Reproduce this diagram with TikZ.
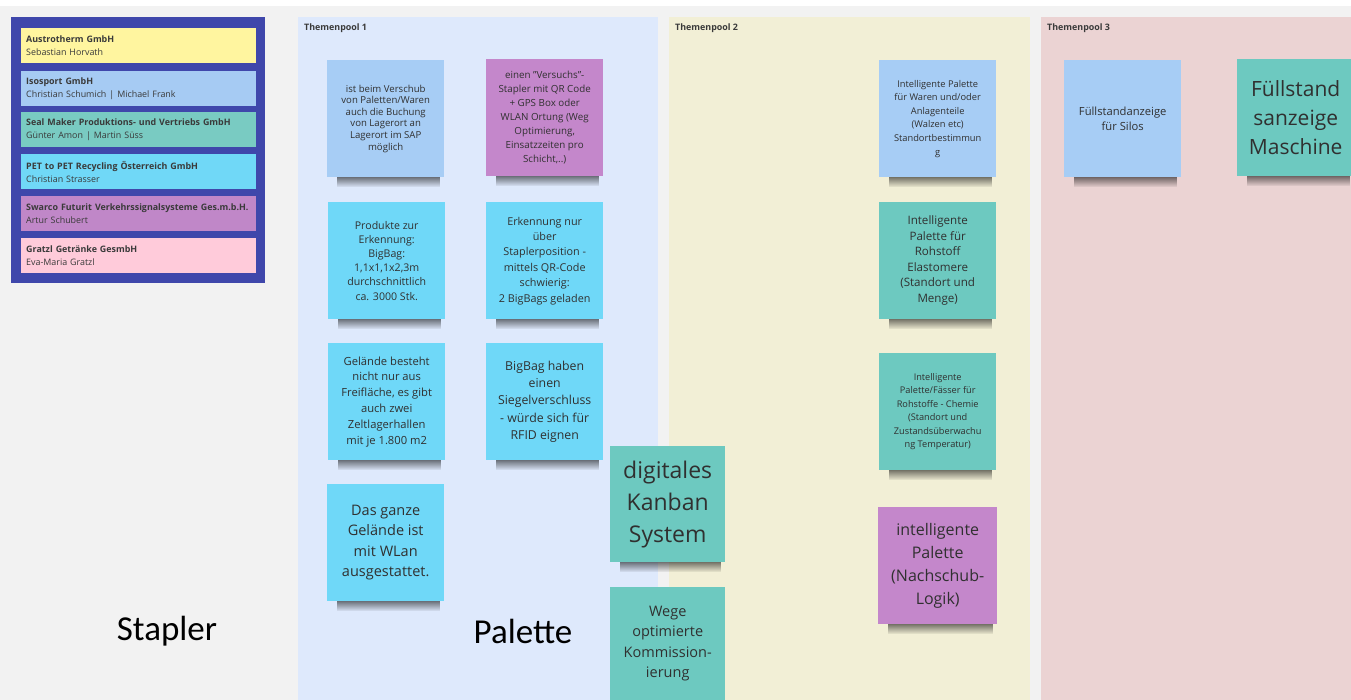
\documentclass[tikz,border=0pt]{standalone}
\usepackage{fontspec}
\setmainfont{Open Sans}
\newfontfamily\labelfont{Carlito}
\usetikzlibrary{fadings}

\definecolor{boardgray}{HTML}{F2F2F2}
\definecolor{legendframe}{HTML}{3F47AB}
\definecolor{poolone}{HTML}{DEE9FC}
\definecolor{pooltwo}{HTML}{F2EFD6}
\definecolor{poolthree}{HTML}{EBD3D3}
\definecolor{cyellow}{HTML}{FFF59F}
\definecolor{cblue}{HTML}{A6CBF3}
\definecolor{cteal}{HTML}{79CBC2}
\definecolor{ccyan}{HTML}{70D8F7}
\definecolor{cpurple}{HTML}{C087C8}
\definecolor{cpink}{HTML}{FFCBDA}
\definecolor{nblue}{HTML}{A7CDF5}
\definecolor{nteal}{HTML}{6DC9C0}
\definecolor{ncyan}{HTML}{6FD8F8}
\definecolor{npurple}{HTML}{C487CB}
\definecolor{notetext}{HTML}{303030}
\definecolor{legendtext}{HTML}{3A3A3A}

\newcommand\notefont[2]{\fontsize{#1}{#2}\selectfont}

\pgfdeclarelayer{pools}
\pgfdeclarelayer{shade}
\pgfsetlayers{pools,shade,main}

\tikzset{
  note/.style={anchor=north west, minimum width=117pt, minimum height=117pt,
    inner sep=3pt, align=center, text=notetext},
  company/.style={anchor=north west, text width=225pt, minimum height=35pt,
    inner sep=5pt, align=left, text=legendtext, font=\notefont{8.9}{13}},
  pooltitle/.style={anchor=west, inner sep=0pt, text=legendtext, font=\notefont{8.9}{10}\bfseries},
  biglabel/.style={inner sep=0pt, font=\labelfont\fontsize{35}{40}\selectfont}
}

\begin{document}
\begin{tikzpicture}[x=1pt,y=-1pt]
\useasboundingbox (0,0) rectangle (1351,700);

% board, pools and legend frame
\begin{pgfonlayer}{pools}
  \fill[white] (0,0) rectangle (1351,700);
  \fill[boardgray] (0,6) rectangle (1351,700);
  \fill[poolone] (298,17) rectangle (658,700);
  \fill[pooltwo] (669,17) rectangle (1030,700);
  \fill[poolthree] (1041,17) rectangle (1351,700);
  \fill[legendframe] (11,17) rectangle (265,283);
\end{pgfonlayer}

% legend
\node[company, fill=cyellow] (austrotherm) at (21,28) {\textbf{Austrotherm GmbH}\\Sebastian Horvath};
\node[company, fill=cblue] (isosport) at (21,71) {\textbf{Isosport GmbH}\\Christian Schumich | Michael Frank};
\node[company, fill=cteal] (sealmaker) at (21,112) {\textbf{Seal Maker Produktions- und Vertriebs GmbH}\\Günter Amon | Martin Süss};
\node[company, fill=ccyan] (pettopet) at (21,154) {\textbf{PET to PET Recycling Österreich GmbH}\\Christian Strasser};
\node[company, fill=cpurple] (swarco) at (21,196) {\textbf{Swarco Futurit Verkehrssignalsysteme Ges.m.b.H.}\\Artur Schubert};
\node[company, fill=cpink] (gratzl) at (21,238) {\textbf{Gratzl Getränke GesmbH}\\Eva-Maria Gratzl};

% pool titles
\node[pooltitle] (tpone) at (304,28) {Themenpool 1};
\node[pooltitle] (tptwo) at (675,28) {Themenpool 2};
\node[pooltitle] (tpthree) at (1047,28) {Themenpool 3};

% Themenpool 1
\node[note, fill=nblue, font=\notefont{9.6}{11.6}] (verschub) at (327,60)
  {ist beim Verschub\\von Paletten/Waren\\auch die Buchung\\von Lagerort an\\Lagerort im SAP\\möglich};
\node[note, fill=npurple, font=\notefont{9.8}{14}] (versuchsstapler) at (486,59)
  {einen "Versuchs"-\\Stapler mit QR Code\\+ GPS Box oder\\WLAN Ortung (Weg\\Optimierung,\\Einsatzzeiten pro\\Schicht,..)};
\node[note, fill=ncyan, font=\notefont{10.6}{14.2}] (produkte) at (328,202)
  {Produkte zur\\Erkennung:\\BigBag:\\1,1x1,1x2,3m\\durchschnittlich\\ca. 3000 Stk.};
\node[note, fill=ncyan, font=\notefont{10.8}{15.4}] (erkennung) at (486,202)
  {Erkennung nur\\über\\Staplerposition -\\mittels QR-Code\\schwierig:\\2 BigBags geladen};
\node[note, fill=ncyan, font=\notefont{11.2}{15.8}] (gelaende) at (328,343)
  {Gelände besteht\\nicht nur aus\\Freifläche, es gibt\\auch zwei\\Zeltlagerhallen\\mit je 1.800 m2};
\node[note, fill=ncyan, font=\notefont{12.3}{17.3}] (siegel) at (486,343)
  {BigBag haben\\einen\\Siegelverschluss\\- würde sich für\\RFID eignen};
\node[note, fill=ncyan, font=\notefont{14.5}{20.3}] (wlan) at (327,484)
  {Das ganze\\Gelände ist\\mit WLan\\ausgestattet.};
\node[note, fill=nteal, minimum width=115pt, minimum height=116pt, font=\notefont{23}{32}] (kanban) at (610,446)
  {digitales\\Kanban\\System};
\node[note, fill=nteal, minimum width=115pt, minimum height=113pt, font=\notefont{14.5}{20.3}] (wege) at (610,587)
  {Wege\\optimierte\\Kommission-\\ierung};

% Themenpool 2
\node[note, fill=nblue, font=\notefont{9.3}{13.6}] (warenpalette) at (879,60)
  {Intelligente Palette\\für Waren und/oder\\Anlagenteile\\(Walzen etc)\\Standortbestimmun\\g};
\node[note, fill=nteal, font=\notefont{11.6}{15.5}] (elastomere) at (879,202)
  {Intelligente\\Palette für\\Rohstoff\\Elastomere\\(Standort und\\Menge)};
\node[note, fill=nteal, font=\notefont{9.2}{13.5}] (chemie) at (879,353)
  {Intelligente\\Palette/Fässer für\\Rohstoffe - Chemie\\(Standort und\\Zustandsüberwachu\\ng Temperatur)};
\node[note, fill=npurple, minimum width=119pt, font=\notefont{16}{23}] (nachschub) at (878,507)
  {intelligente\\Palette\\(Nachschub-\\Logik)};

% Themenpool 3
\node[note, fill=nblue, font=\notefont{11.2}{15}] (silos) at (1064,60)
  {Füllstandanzeige\\für Silos};
\node[note, fill=nteal, font=\notefont{21}{29}] (maschine) at (1237,59)
  {Füllstand\\sanzeige\\Maschine};

% shadows under the notes
\begin{pgfonlayer}{shade}
  \foreach \n in {verschub,versuchsstapler,produkte,erkennung,gelaende,siegel,wlan,kanban,
                  warenpalette,elastomere,chemie,nachschub,silos,maschine}
    \fill[black, opacity=.6, path fading=south]
      ([xshift=10pt,yshift=2pt]\n.south west) rectangle ([xshift=-4pt,yshift=-10pt]\n.south east);
\end{pgfonlayer}

% group labels
\node[biglabel] (stapler) at (167,631) {Stapler};
\node[biglabel] (palette) at (523,631) {Palette};
\end{tikzpicture}
\end{document}
